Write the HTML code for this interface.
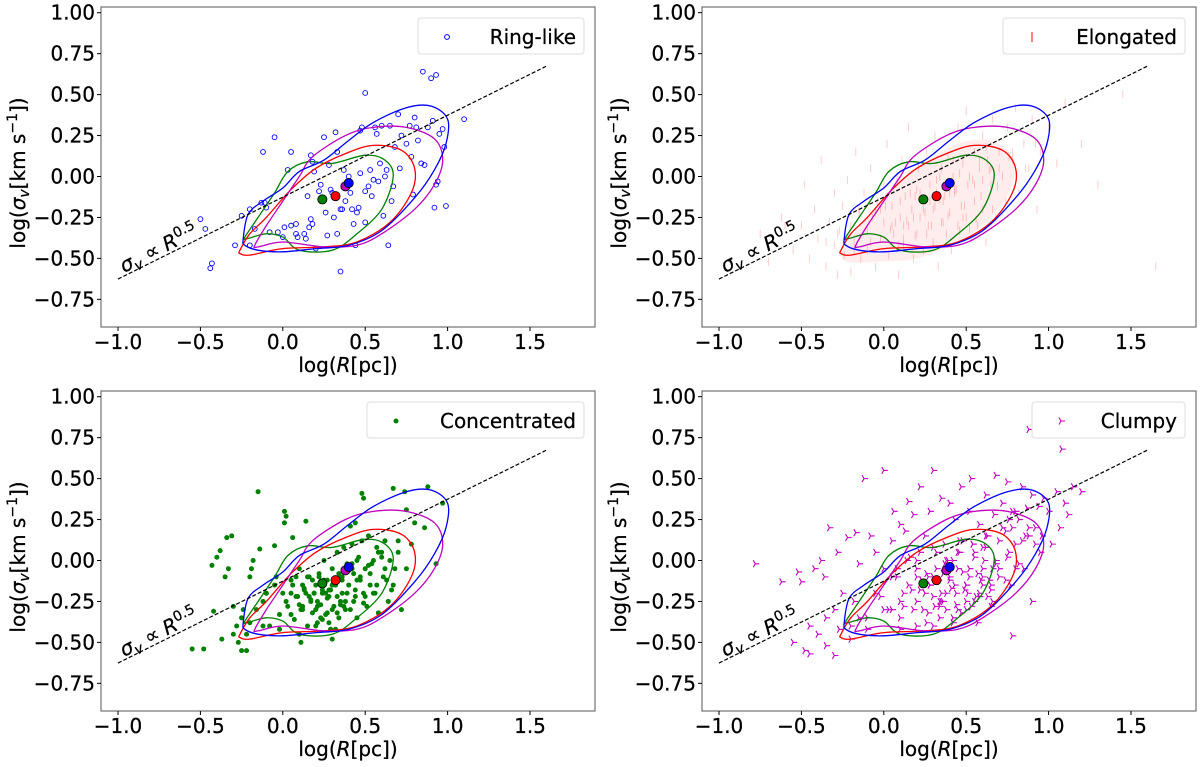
<!DOCTYPE html>
<html><head><meta charset="utf-8">
<style>
html,body{margin:0;padding:0;background:#fff;}
svg{display:block;font-family:"DejaVu Sans","Liberation Sans",sans-serif;}
</style></head>
<body>
<svg id="fig" width="1200" height="767" viewBox="0 0 1200 767" xmlns="http://www.w3.org/2000/svg"></svg>
<script>
// ---------- data ----------
const xTicks = [-1.0, -0.5, 0.0, 0.5, 1.0, 1.5];
const xTickLabels = ["\u22121.0", "\u22120.5", "0.0", "0.5", "1.0", "1.5"];
const yTicks = [1.0, 0.75, 0.5, 0.25, 0.0, -0.25, -0.5, -0.75];
const yTickLabels = ["1.00", "0.75", "0.50", "0.25", "0.00", "\u22120.25", "\u22120.50", "\u22120.75"];
const lineX = [-1.0, 1.6];
const lineSlope = 0.5;
const lineIntercept = -0.126;
const centroidNames = ["green", "red", "magenta", "blue"];
const centroidX = [0.24, 0.32, 0.38, 0.40];
const centroidY = [-0.14, -0.12, -0.06, -0.04];
const contourBlue = [[-0.24,-0.38],[-0.21,-0.23],[-0.12,-0.15],[0.0,-0.07],[0.1,0.03],[0.25,0.1],[0.4,0.22],[0.55,0.33],[0.75,0.42],[0.9,0.43],[1.0,0.35],[0.99,0.2],[0.92,0.04],[0.8,-0.13],[0.6,-0.33],[0.4,-0.42],[0.2,-0.44],[0.0,-0.46],[-0.15,-0.45],[-0.23,-0.42]];
const contourMagenta = [[-0.17,-0.42],[-0.1,-0.3],[0.0,-0.15],[0.1,0.0],[0.18,0.12],[0.38,0.25],[0.55,0.3],[0.75,0.3],[0.92,0.23],[0.97,0.1],[0.92,-0.05],[0.8,-0.2],[0.6,-0.35],[0.45,-0.42],[0.25,-0.43],[0.0,-0.4],[-0.15,-0.43]];
const contourRed = [[-0.26,-0.45],[-0.2,-0.35],[-0.1,-0.25],[0.05,-0.08],[0.2,0.05],[0.38,0.14],[0.55,0.19],[0.72,0.16],[0.8,0.05],[0.78,-0.1],[0.65,-0.28],[0.45,-0.40],[0.25,-0.43],[0.0,-0.44],[-0.2,-0.48],[-0.26,-0.47]];
const contourGreen = [[-0.23,-0.37],[-0.15,-0.25],[-0.05,-0.1],[0.03,0.03],[0.15,0.09],[0.3,0.08],[0.5,0.13],[0.62,0.1],[0.67,0.0],[0.6,-0.2],[0.45,-0.35],[0.3,-0.45],[0.1,-0.45],[0.0,-0.37],[-0.1,-0.35],[-0.22,-0.38]];
const elongDensity = [[-0.25,-0.45],[-0.1,-0.25],[0.05,-0.08],[0.25,0.08],[0.45,0.2],[0.65,0.22],[0.78,0.12],[0.78,-0.05],[0.65,-0.25],[0.45,-0.4],[0.2,-0.5],[-0.05,-0.52],[-0.22,-0.52]];

const ringX = [-0.5,-0.47,-0.44,-0.43,-0.29,-0.25,-0.2,-0.2,-0.17,-0.13,-0.12,-0.1,-0.08,-0.05,-0.03,0.0,0.01,0.03,0.05,0.05,0.08,0.08,0.09,0.13,0.14,0.16,0.17,0.17,0.18,0.18,0.19,0.2,0.22,0.23,0.25,0.26,0.28,0.29,0.3,0.31,0.32,0.33,0.33,0.35,0.35,0.37,0.38,0.4,0.41,0.42,0.43,0.44,0.46,0.47,0.47,0.48,0.5,0.5,0.5,0.52,0.53,0.54,0.55,0.56,0.57,0.58,0.6,0.61,0.62,0.64,0.65,0.66,0.67,0.68,0.7,0.71,0.72,0.75,0.77,0.78,0.8,0.81,0.82,0.84,0.85,0.88,0.9,0.91,0.92,0.93,0.93,0.95,0.97,0.98,0.99,1.1,0.79,0.59,0.86,0.94,-0.11,0.15,0.27,0.36,0.45,0.63];
const ringY = [-0.26,-0.32,-0.56,-0.53,-0.42,-0.24,-0.2,-0.42,-0.32,-0.16,0.15,-0.19,-0.34,0.24,-0.34,-0.37,-0.31,0.04,-0.3,0.15,-0.35,-0.29,-0.37,-0.35,-0.38,-0.31,-0.26,0.13,0.09,-0.29,0.03,-0.44,-0.09,-0.05,0.24,-0.22,0.07,-0.08,-0.1,-0.25,0.27,-0.35,0.15,-0.2,-0.58,0.04,-0.15,0.0,-0.1,-0.2,-0.29,-0.42,-0.19,0.02,0.28,0.3,-0.28,-0.09,0.51,-0.06,0.04,-0.12,-0.02,0.3,0.26,-0.03,0.31,-0.24,0.0,-0.42,0.31,-0.15,-0.06,0.18,0.38,0.05,0.25,0.2,0.31,0.12,0.36,0.3,0.22,0.08,0.64,0.3,0.6,0.34,-0.19,-0.05,0.62,0.26,0.29,0.18,-0.18,0.35,-0.11,0.08,0.07,-0.03,-0.16,-0.12,-0.36,-0.2,-0.22,0.04];

const elongX = [-0.75,-0.7,-0.62,-0.55,-0.5,-0.48,-0.45,-0.42,-0.4,-0.38,-0.35,-0.33,-0.3,-0.3,-0.28,-0.27,-0.25,-0.24,-0.22,-0.2,-0.2,-0.18,-0.17,-0.15,-0.14,-0.12,-0.1,-0.1,-0.08,-0.07,-0.05,-0.04,-0.02,0.0,0.0,0.02,0.03,0.05,0.06,0.08,0.09,0.1,0.11,0.12,0.13,0.15,0.15,0.17,0.18,0.2,0.2,0.21,0.22,0.24,0.25,0.26,0.27,0.28,0.3,0.3,0.31,0.32,0.33,0.35,0.35,0.36,0.38,0.39,0.4,0.41,0.42,0.43,0.45,0.45,0.47,0.48,0.5,0.5,0.51,0.53,0.55,0.55,0.57,0.58,0.6,0.6,0.62,0.63,0.65,0.66,0.68,0.7,0.72,0.74,0.75,0.78,0.8,0.82,0.85,0.88,0.9,0.93,0.95,1.0,1.05,1.1,1.2,1.3,1.45,1.65,-0.6,-0.35,-0.15,0.05,0.18,0.28,0.4,0.52,0.65,0.78,0.92,-0.02,0.1,0.22,0.34,0.46,0.58,0.7,0.12,0.25,0.37,0.48,0.6,-0.05,0.07,0.19,0.31,0.43,0.55,0.67,
 0.04,0.14,0.24,0.34,0.44,0.54,0.64,0.09,0.19,0.29,0.39,0.49,0.59,0.69,-0.08,0.01,0.16,0.26,0.36,0.46,0.56,0.66,-0.18,-0.28,0.76,0.86,0.02,0.12,0.32,0.42,0.52,0.62];
const elongY = [-0.35,-0.52,-0.25,-0.45,-0.3,-0.05,-0.5,-0.2,-0.38,0.1,-0.55,-0.28,-0.42,-0.1,-0.6,-0.33,-0.18,-0.48,-0.02,-0.3,-0.58,-0.4,0.15,-0.22,-0.5,-0.1,-0.33,-0.45,0.05,-0.25,-0.55,-0.15,-0.38,-0.05,-0.28,0.2,-0.48,-0.18,-0.35,0.0,-0.6,-0.25,0.1,-0.42,-0.12,-0.3,0.3,-0.2,-0.5,-0.08,-0.35,0.05,-0.25,-0.45,-0.15,0.15,-0.3,-0.05,-0.4,-0.2,0.25,-0.1,-0.55,-0.28,0.05,-0.15,-0.35,0.12,-0.22,-0.45,0.0,-0.1,0.3,-0.3,-0.18,0.08,-0.25,0.4,-0.05,-0.38,0.15,-0.15,-0.3,0.05,0.25,-0.2,-0.4,0.1,-0.05,0.35,-0.25,0.15,0.0,-0.15,0.3,0.1,0.42,-0.1,0.2,0.05,0.35,-0.2,0.15,0.3,0.08,0.45,0.2,-0.05,0.5,-0.55,-0.3,-0.4,-0.2,-0.3,-0.25,-0.15,-0.1,0.0,0.05,0.15,0.2,-0.2,-0.15,-0.1,0.0,0.02,0.1,0.05,-0.3,-0.22,-0.12,-0.25,-0.02,-0.22,-0.28,-0.12,-0.18,-0.08,-0.05,0.02,
 -0.32,-0.27,-0.2,-0.14,-0.08,-0.02,0.04,-0.42,-0.36,-0.3,-0.24,-0.18,-0.12,-0.06,-0.4,-0.18,-0.1,-0.35,-0.28,-0.33,-0.26,-0.2,-0.45,-0.35,0.12,0.05,-0.12,-0.38,-0.02,0.1,-0.32,0.18];

const concX = [-0.15,-0.55,-0.48,-0.42,-0.43,-0.4,-0.38,-0.34,-0.31,-0.33,-0.35,-0.37,-0.3,-0.28,-0.25,-0.22,-0.27,-0.24,-0.2,-0.19,-0.18,-0.14,-0.1,-0.05,0.01,0.02,0.01,0.06,0.08,0.14,0.11,0.1,0.3,0.32,0.41,0.44,0.48,0.49,0.67,0.74,0.88,0.97,0.93,0.8,0.86,0.75,
 -0.2,-0.16,-0.12,-0.08,-0.05,-0.02,0.0,0.03,0.05,0.07,0.09,0.1,0.12,0.13,0.15,0.16,0.17,0.18,0.19,0.2,0.21,0.22,0.23,0.24,0.25,0.26,0.27,0.28,0.29,0.3,0.31,0.32,0.33,0.34,0.35,0.36,0.37,0.38,0.39,0.4,0.41,0.42,0.43,0.44,0.45,0.46,0.47,0.48,0.5,0.51,0.52,0.53,0.55,0.56,0.57,0.58,0.6,0.61,0.62,0.64,0.65,0.67,0.7,0.72,0.75,0.78,
 -0.1,-0.04,0.02,0.06,0.11,0.14,0.18,0.21,0.24,0.27,0.3,0.33,0.36,0.39,0.42,0.45,0.49,0.53,0.57,0.62,0.66,0.05,0.12,0.16,0.2,0.25,0.28,0.35,0.38,0.43,0.47,0.52,0.58,0.63,
 0.08,0.13,0.17,0.22,0.26,0.31,0.35,0.4,0.44,0.49,0.54,0.12,0.19,0.23,0.29,0.34,0.38,0.45,0.5,0.15,0.21,0.27,0.33,0.37,0.42,0.05,0.1,0.24,0.3,0.36,-0.25,-0.3,-0.12,-0.22,-0.02,0.55,0.6,0.7,0.68,0.2,0.28];
const concY = [0.42,-0.54,-0.54,-0.31,-0.03,0.02,0.06,0.14,0.15,-0.05,-0.1,-0.48,-0.28,-0.4,-0.55,-0.55,-0.5,-0.3,-0.1,-0.05,0.0,0.07,-0.2,0.09,0.3,0.27,0.23,0.14,-0.1,0.24,-0.5,-0.45,-0.48,-0.42,0.21,0.23,0.41,0.38,0.44,0.42,0.45,0.35,-0.02,0.23,0.2,0.31,
 -0.38,-0.3,-0.25,-0.4,-0.15,-0.33,-0.2,-0.28,-0.12,-0.36,-0.22,-0.05,-0.3,-0.18,-0.4,-0.1,-0.25,-0.32,-0.2,-0.15,-0.38,-0.08,-0.27,-0.2,0.0,-0.33,-0.12,-0.22,-0.42,-0.05,-0.28,-0.15,0.05,-0.35,-0.1,-0.2,0.08,-0.25,-0.02,-0.15,-0.3,0.1,-0.08,-0.22,-0.35,0.02,-0.12,0.12,-0.05,-0.28,0.15,-0.15,0.0,-0.2,0.08,-0.32,0.05,-0.1,0.12,-0.25,0.0,-0.15,0.05,-0.3,-0.05,0.1,
 -0.2,-0.1,-0.25,-0.15,-0.3,-0.2,-0.12,-0.28,-0.18,-0.23,-0.15,-0.32,-0.1,-0.2,-0.02,-0.12,-0.2,-0.08,-0.15,-0.05,-0.18,-0.33,-0.15,-0.22,-0.3,-0.12,-0.18,-0.27,-0.05,-0.25,-0.1,-0.03,0.05,-0.12,
 -0.22,-0.17,-0.24,-0.1,-0.2,-0.14,-0.25,-0.06,-0.18,-0.26,-0.02,-0.28,-0.2,-0.35,-0.18,-0.08,-0.3,0.0,-0.22,-0.1,-0.25,-0.32,-0.22,-0.28,-0.05,-0.2,-0.27,-0.36,-0.3,-0.12,-0.35,-0.45,-0.4,-0.45,-0.42,-0.2,0.02,0.12,-0.05,-0.4,-0.38];

const clumpX = [-0.78,-0.62,-0.52,-0.5,-0.48,-0.45,-0.42,-0.4,-0.38,-0.36,-0.35,-0.33,-0.3,-0.3,-0.28,-0.27,-0.25,-0.22,-0.2,-0.18,-0.17,-0.15,-0.12,-0.1,-0.08,-0.05,-0.02,0.0,0.0,0.03,0.05,0.06,0.08,0.1,0.12,0.13,0.15,0.17,0.18,0.2,0.22,0.23,0.25,0.27,0.28,0.3,0.32,0.34,0.35,0.37,0.38,0.4,0.42,0.43,0.45,0.47,0.48,0.5,0.52,0.53,0.55,0.57,0.58,0.6,0.62,0.63,0.65,0.67,0.68,0.7,0.72,0.74,0.75,0.77,0.78,0.8,0.82,0.84,0.85,0.87,0.88,0.9,0.92,0.94,0.95,0.97,1.0,1.02,1.05,1.07,1.1,1.12,1.15,1.2,0.88,1.08,0.9,
 -0.05,0.0,0.05,0.1,0.15,0.2,0.25,0.3,0.35,0.4,0.45,0.5,0.55,0.6,0.65,0.7,0.75,0.8,0.1,0.18,0.26,0.34,0.42,0.5,0.58,0.66,0.74,0.82,0.14,0.22,0.3,0.38,0.46,0.54,0.62,0.7,0.78,0.86,0.2,0.28,0.36,0.44,0.52,0.6,0.68,0.76,-0.15,-0.1,-0.2,-0.55,-0.45,-0.35,0.78,0.1,0.2,
 0.22,0.26,0.3,0.33,0.37,0.41,0.44,0.48,0.51,0.55,0.59,0.63,0.24,0.28,0.32,0.36,0.4,0.45,0.49,0.53,0.57,0.61,0.65,0.27,0.31,0.35,0.39,0.43,0.47,0.52,0.56,0.6,0.64,0.68,0.3,0.34,0.38,0.42,0.46,0.5,0.54,0.58,0.62,0.66,0.72,0.76,0.8,0.84,0.88,0.92,0.96,0.05,0.08,0.12,0.16,0.2];
const clumpY = [-0.02,-0.13,-0.07,-0.13,-0.55,-0.57,-0.05,-0.45,0.0,-0.1,-0.52,0.2,-0.3,-0.58,0.05,-0.42,-0.2,0.14,-0.48,-0.25,0.17,-0.02,0.5,-0.35,0.15,0.05,-0.22,0.55,-0.05,-0.3,0.12,0.3,-0.1,0.22,-0.28,0.18,0.36,-0.18,0.28,0.0,0.45,-0.12,0.15,-0.32,0.3,0.55,0.05,-0.25,0.38,0.1,-0.2,0.35,0.0,0.25,-0.3,0.45,0.12,-0.15,0.3,0.5,0.05,-0.38,0.22,-0.1,0.4,0.15,-0.28,0.28,0.52,-0.05,0.35,0.18,0.48,-0.15,0.3,0.1,0.25,0.45,-0.05,0.32,0.15,0.4,0.2,0.33,0.05,0.38,0.3,0.1,0.42,0.2,0.35,0.28,0.45,0.42,0.8,0.68,-0.25,
 -0.2,-0.3,-0.1,-0.25,-0.15,-0.05,-0.2,-0.1,-0.25,-0.12,-0.05,-0.15,-0.25,-0.05,-0.18,-0.1,0.02,-0.05,-0.35,-0.3,-0.38,-0.28,-0.35,-0.3,-0.2,-0.25,-0.12,-0.02,0.0,0.05,0.08,0.0,0.05,0.1,0.08,0.12,0.2,0.15,-0.1,-0.15,-0.08,-0.2,-0.1,-0.15,0.0,0.05,-0.35,-0.42,-0.4,-0.5,-0.4,-0.35,-0.46,-0.42,-0.4,
 -0.18,-0.08,-0.22,-0.12,-0.02,-0.17,-0.27,-0.07,-0.2,0.02,-0.12,-0.22,-0.3,-0.15,-0.05,-0.25,-0.1,0.05,-0.18,-0.28,-0.08,0.0,-0.15,-0.1,-0.28,-0.2,0.0,-0.15,-0.32,-0.05,-0.22,0.08,-0.12,-0.02,-0.4,-0.35,-0.3,-0.38,0.12,-0.25,0.1,-0.22,0.15,-0.05,0.2,0.25,0.3,0.12,0.2,0.1,0.15,-0.3,-0.05,-0.2,0.02,-0.25];

// ---------- layout ----------
const NS = "http://www.w3.org/2000/svg";
const svg = document.getElementById('fig');
const AX_L = 101, AX_T = 7, AX_W = 494, AX_H = 320;
const FS = 20;
function mk(tag, attrs, parent) {
  const e = document.createElementNS(NS, tag);
  for (const k in attrs) e.setAttribute(k, attrs[k]);
  (parent || svg).appendChild(e);
  return e;
}
function txt(parent, x, y, anchor, extra) {
  return mk('text', {x: 0, y: 0, 'font-size': FS, 'text-anchor': anchor, stroke: '#000', 'stroke-width': 0.25, transform: `translate(${x} ${y}) ${extra || ''}`}, parent);
}
function makeScales(ox, oy) {
  return {
    sx: v => ox + 118 + (v + 1) * 164.8,
    sy: v => oy + 12.7 + (1 - v) * 163.8
  };
}
function smoothClosed(pts, sx, sy) {
  const P = pts.map(p => [sx(p[0]), sy(p[1])]);
  const n = P.length;
  let d = `M${P[0][0].toFixed(1)},${P[0][1].toFixed(1)}`;
  for (let i = 0; i < n; i++) {
    const p0 = P[(i - 1 + n) % n], p1 = P[i], p2 = P[(i + 1) % n], p3 = P[(i + 2) % n];
    const c1 = [p1[0] + (p2[0] - p0[0]) / 6, p1[1] + (p2[1] - p0[1]) / 6];
    const c2 = [p2[0] - (p3[0] - p1[0]) / 6, p2[1] - (p3[1] - p1[1]) / 6];
    d += ` C${c1[0].toFixed(1)},${c1[1].toFixed(1)} ${c2[0].toFixed(1)},${c2[1].toFixed(1)} ${p2[0].toFixed(1)},${p2[1].toFixed(1)}`;
  }
  return d + 'Z';
}
function triPath(x, y, r) {
  return `M${x},${y}L${x + r},${y}M${x},${y}L${x - r * 0.5},${y - r * 0.866}M${x},${y}L${x - r * 0.5},${y + r * 0.866}`;
}

const panels = [
  {name: 'ring-like', ox: 0, oy: 0, label: 'Ring-like', legL: 418, legW: 166},
  {name: 'elongated', ox: 601, oy: 0, label: 'Elongated', legL: 1003, legW: 182},
  {name: 'concentrated', ox: 0, oy: 384, label: 'Concentrated', legL: 367, legW: 217},
  {name: 'clumpy', ox: 601, oy: 384, label: 'Clumpy', legL: 1032, legW: 153}
];

panels.forEach(p => {
  const {sx, sy} = makeScales(p.ox, p.oy);
  const g = mk('g', {});
  
  
  const clipId = 'clip-' + p.name;
  const cp = mk('clipPath', {id: clipId}, g);
  mk('rect', {x: p.ox + AX_L, y: p.oy + AX_T, width: AX_W, height: AX_H}, cp);
  const plot = mk('g', {'clip-path': `url(#${clipId})`}, g);
  
  

  const pts = mk('g', {}, plot);
  
  
  if (p.name === 'ring-like') {
    ringX.forEach((x, i) => {
      const c = mk('circle', {cx: sx(x), cy: sy(ringY[i]), r: 2.4, fill: 'none', stroke: '#0000ff', 'stroke-width': 0.9}, pts);
      
      
    });
  } else if (p.name === 'elongated') {
    const dens = mk('path', {d: smoothClosed(elongDensity, sx, sy), fill: '#ff0000', 'fill-opacity': 0.07}, pts);
    
    
    elongX.forEach((x, i) => {
      const l = mk('line', {x1: sx(x), x2: sx(x), y1: sy(elongY[i]) - 4, y2: sy(elongY[i]) + 4, stroke: '#ff0000', 'stroke-opacity': 0.2, 'stroke-width': 1}, pts);
      
      
    });
  } else if (p.name === 'concentrated') {
    concX.forEach((x, i) => {
      const c = mk('circle', {cx: sx(x), cy: sy(concY[i]), r: 2.5, fill: '#008000'}, pts);
      
      
    });
  } else {
    clumpX.forEach((x, i) => {
      const t = mk('path', {d: triPath(sx(x), sy(clumpY[i]), 4), stroke: '#bf00bf', 'stroke-width': 1.1, fill: 'none'}, pts);
      
      
    });
  }

  [[contourGreen, '#008000', 'green'], [contourRed, '#ff0000', 'red'], [contourMagenta, '#bf00bf', 'magenta'], [contourBlue, '#0000ff', 'blue']].forEach(c => {
    const path = mk('path', {d: smoothClosed(c[0], sx, sy), fill: 'none', stroke: c[1], 'stroke-width': 1.3}, plot);
    
    
  });

  const rl = mk('line', {x1: sx(lineX[0]), y1: sy(lineSlope * lineX[0] + lineIntercept), x2: sx(lineX[1]), y2: sy(lineSlope * lineX[1] + lineIntercept), stroke: '#000', 'stroke-width': 1.2, 'stroke-dasharray': '4,2'}, plot);
  
  

  const an = txt(g, p.ox + 124, p.oy + 273, 'start', 'rotate(-26.6)');
  an.setAttribute('font-style', 'italic');
  
  
  an.innerHTML = 'σ<tspan font-size="14" dy="4">v</tspan><tspan font-style="normal" dy="-4"> ∝ </tspan>R<tspan font-style="normal" font-size="14" dy="-8">0.5</tspan>';

  const cg = mk('g', {}, plot);
  
  
  const cols = {green: '#008000', red: '#ff0000', magenta: '#bf00bf', blue: '#0000ff'};
  centroidX.forEach((x, i) => {
    const c = mk('circle', {cx: sx(x), cy: sy(centroidY[i]), r: 4.6, fill: cols[centroidNames[i]], stroke: '#000', 'stroke-width': 0.8}, cg);
    
    
  });

  const fr = mk('rect', {x: p.ox + AX_L, y: p.oy + AX_T, width: AX_W, height: AX_H, fill: 'none', stroke: '#555', 'stroke-width': 1}, g);
  
  

  const xa = mk('g', {}, g);
  
  
  xTicks.forEach((v, i) => {
    const x = sx(v), yb = p.oy + AX_T + AX_H;
    mk('line', {x1: x, x2: x, y1: yb, y2: yb + 4, stroke: '#000', 'stroke-width': 1}, xa);
    const t = txt(xa, x, yb + 22, 'middle');
    
    
    t.textContent = xTickLabels[i];
  });
  const ya = mk('g', {}, g);
  
  
  yTicks.forEach((v, i) => {
    const y = sy(v), xl = p.ox + AX_L;
    mk('line', {x1: xl - 4, x2: xl, y1: y, y2: y, stroke: '#000', 'stroke-width': 1}, ya);
    const t = txt(ya, xl - 6, y + 7, 'end');
    
    
    t.textContent = yTickLabels[i];
  });
  const xt = txt(g, p.ox + 348, p.oy + 372, 'middle');
  
  
  xt.innerHTML = 'log(<tspan font-style="italic">R</tspan>[pc])';
  const yt = txt(g, p.ox + 25, p.oy + 173, 'middle', 'rotate(-90)');
  
  
  yt.innerHTML = 'log(<tspan font-style="italic">σ</tspan><tspan font-style="italic" font-size="14" dy="4">v</tspan><tspan dy="-4">[km s</tspan><tspan font-size="14" dy="-8">−1</tspan><tspan dy="8">])</tspan>';

  const lg = mk('g', {}, g);
  
  
  mk('rect', {x: p.legL, y: p.oy + 18, width: p.legW, height: 36, rx: 3, fill: '#fff', stroke: '#ddd', 'stroke-width': 1}, lg);
  const mx = p.legL + 29, my = p.oy + 37;
  if (p.name === 'ring-like') mk('circle', {cx: mx, cy: my, r: 2.4, fill: 'none', stroke: '#0000ff', 'stroke-width': 1}, lg);
  else if (p.name === 'elongated') mk('line', {x1: mx, x2: mx, y1: my - 5, y2: my + 5, stroke: '#ff0000', 'stroke-width': 1}, lg);
  else if (p.name === 'concentrated') mk('circle', {cx: mx, cy: my, r: 2.5, fill: '#008000'}, lg);
  else mk('path', {d: triPath(mx, my, 4), stroke: '#bf00bf', 'stroke-width': 1.1, fill: 'none'}, lg);
  const lt = txt(lg, p.legL + p.legW - 8, p.oy + 44, 'end');
  
  
  lt.textContent = p.label;
});
</script>
</body></html>
